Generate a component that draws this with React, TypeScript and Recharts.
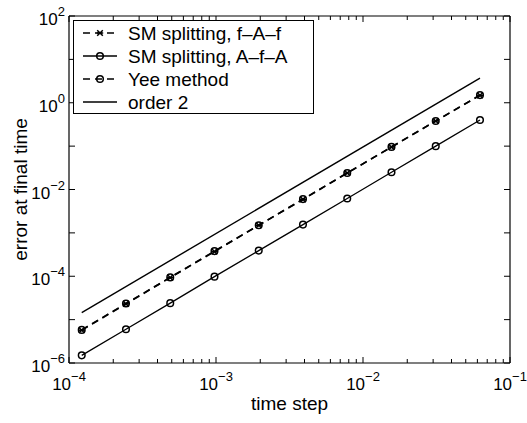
import React from "react";
import { LineChart, Line, XAxis, YAxis, Legend } from "recharts";

// time steps halve from one run to the next
const steps = [1.2207e-4, 2.4414e-4, 4.8828e-4, 9.7656e-4, 1.9531e-3, 3.9063e-3, 7.8125e-3, 1.5625e-2, 3.125e-2, 6.25e-2];
const fAfErr = [5.7e-6, 2.3e-5, 9.3e-5, 3.7e-4, 1.5e-3, 5.9e-3, 2.4e-2, 9.5e-2, 0.38, 1.48];
const AfAErr = [1.5e-6, 6.0e-6, 2.4e-5, 9.8e-5, 3.9e-4, 1.55e-3, 6.2e-3, 2.5e-2, 0.1, 0.4];
const yeeErr = [5.8e-6, 2.35e-5, 9.4e-5, 3.8e-4, 1.5e-3, 6.0e-3, 2.4e-2, 9.6e-2, 0.38, 1.5];
// reference slope line, only its two ends
const order2Steps = [1.2207e-4, 6.25e-2];
const order2Err = [1.45e-5, 3.7];

const xTicks = [
  1e-4, 2e-4, 3e-4, 4e-4, 5e-4, 6e-4, 7e-4, 8e-4, 9e-4,
  1e-3, 2e-3, 3e-3, 4e-3, 5e-3, 6e-3, 7e-3, 8e-3, 9e-3,
  1e-2, 2e-2, 3e-2, 4e-2, 5e-2, 6e-2, 7e-2, 8e-2, 9e-2,
  1e-1,
];
const yTicks = [1e-6, 1e-5, 1e-4, 1e-3, 1e-2, 1e-1, 1, 10, 100];
const yLabelled = [-6, -4, -2, 0, 2];

const legendItems = ["SM splitting, f\u2013A\u2013f", "SM splitting, A\u2013f\u2013A", "Yee method", "order 2"];

const data = steps.map((x, i) => ({
  x,
  fAf: fAfErr[i],
  AfA: AfAErr[i],
  yee: yeeErr[i],
  order2: order2Steps.indexOf(x) >= 0 ? order2Err[order2Steps.indexOf(x)] : null,
}));

const FONT = "'Liberation Sans', Arial, Helvetica, sans-serif";
const DASH = "7 5";

const expOf = (v: number) => Math.round(Math.log10(v));
const isMajor = (v: number) => Math.abs(Math.log10(v) - expOf(v)) < 1e-6;
const expText = (e: number) => (e < 0 ? "\u2212" + Math.abs(e) : String(e));

const BottomTick = (props: any) => {
  const { x, y, payload } = props;
  const major = isMajor(payload.value);
  return (
    <g>
      <line x1={x} x2={x} y1={y} y2={y - (major ? 6 : 4)} stroke="#000" />
      {major && (
        <text x={x} y={y + 27} textAnchor="middle" fontSize={17} fill="#000" fontFamily={FONT}>
          10<tspan dy={-9} fontSize={13}>{expText(expOf(payload.value))}</tspan>
        </text>
      )}
    </g>
  );
};

const TopTick = (props: any) => {
  const { x, y, payload } = props;
  const major = isMajor(payload.value);
  return <line x1={x} x2={x} y1={y} y2={y + (major ? 6 : 4)} stroke="#000" />;
};

const LeftTick = (props: any) => {
  const { x, y, payload } = props;
  const e = expOf(payload.value);
  return (
    <g>
      <line x1={x} x2={x + 6} y1={y} y2={y} stroke="#000" />
      {yLabelled.includes(e) && (
        <text x={x - 4} y={y + 9} textAnchor="end" fontSize={17} fill="#000" fontFamily={FONT}>
          10<tspan dy={-9} fontSize={13}>{expText(e)}</tspan>
        </text>
      )}
    </g>
  );
};

const RightTick = (props: any) => {
  const { x, y } = props;
  return <line x1={x} x2={x - 6} y1={y} y2={y} stroke="#000" />;
};

// f-A-f: small asterisk
const StarMark = ({ cx, cy }: { cx: number; cy: number }) => (
  <g stroke="#000" strokeWidth={1.5}>
    <line x1={cx - 2.8} x2={cx + 2.8} y1={cy - 2.8} y2={cy + 2.8} />
    <line x1={cx - 2.8} x2={cx + 2.8} y1={cy + 2.8} y2={cy - 2.8} />
    <line x1={cx - 3.2} x2={cx + 3.2} y1={cy} y2={cy} />
  </g>
);
// hollow circle, the series line shows through
const RingMark = ({ cx, cy }: { cx: number; cy: number }) => (
  <circle cx={cx} cy={cy} r={3.3} fill="none" stroke="#000" strokeWidth={1.5} />
);

const LegendBox = () => {
  const rowY = [13, 36, 59, 82];
  return (
    <div style={{ width: 241, height: 94, border: "1.2px solid #000", background: "#fff", boxSizing: "border-box", position: "relative" }}>
      <svg width={241} height={94} style={{ display: "block", position: "absolute", left: -1, top: -1 }}>
        {rowY.map((ry, i) => (
          <g key={i}>
            <line
              x1={10}
              x2={44}
              y1={ry}
              y2={ry}
              stroke="#000"
              strokeWidth={i === 1 || i === 3 ? 1.3 : 1.6}
              strokeDasharray={i === 0 || i === 2 ? DASH : undefined}
            />
            {i === 0 && <StarMark cx={27} cy={ry} />}
            {(i === 1 || i === 2) && <RingMark cx={27} cy={ry} />}
            <text x={55} y={ry + 7} fontSize={19} fontFamily={FONT} fill="#000">
              {legendItems[i]}
            </text>
          </g>
        ))}
      </svg>
    </div>
  );
};

export default function App() {
  return (
    <div style={{ position: "absolute", left: 0, top: 0, background: "#fff", fontFamily: FONT }}>
      <LineChart width={527} height={423} data={data} margin={{ top: 15, right: 16, bottom: 59, left: 68 }}>
        <XAxis
          xAxisId="bottom"
          dataKey="x"
          type="number"
          scale="log"
          domain={[1e-4, 1e-1]}
          ticks={xTicks}
          interval={0}
          height={1}
          tickSize={0}
          tickMargin={0}
          tickLine={false}
          axisLine={{ stroke: "#000", strokeWidth: 1.2 }}
          tick={<BottomTick />}
          allowDataOverflow
          label={{
            content: () => (
              <text x={289.5} y={410} textAnchor="middle" fontSize={19} fontFamily={FONT} fill="#000">
                time step
              </text>
            ),
          }}
        />
        <XAxis
          xAxisId="top"
          orientation="top"
          dataKey="x"
          type="number"
          scale="log"
          domain={[1e-4, 1e-1]}
          ticks={xTicks}
          interval={0}
          height={1}
          tickSize={0}
          tickMargin={0}
          tickLine={false}
          axisLine={{ stroke: "#000", strokeWidth: 1.2 }}
          tick={<TopTick />}
          allowDataOverflow
        />
        <YAxis
          yAxisId="left"
          type="number"
          scale="log"
          domain={[1e-6, 100]}
          ticks={yTicks}
          interval={0}
          width={1}
          tickSize={0}
          tickMargin={0}
          tickLine={false}
          axisLine={{ stroke: "#000", strokeWidth: 1.2 }}
          tick={<LeftTick />}
          allowDataOverflow
          label={{
            content: () => (
              <text
                x={27}
                y={189.5}
                transform="rotate(-90 27 189.5)"
                textAnchor="middle"
                fontSize={19}
                fontFamily={FONT}
                fill="#000"
              >
                error at final time
              </text>
            ),
          }}
        />
        <YAxis
          yAxisId="right"
          orientation="right"
          type="number"
          scale="log"
          domain={[1e-6, 100]}
          ticks={yTicks}
          interval={0}
          width={1}
          tickSize={0}
          tickMargin={0}
          tickLine={false}
          axisLine={{ stroke: "#000", strokeWidth: 1.2 }}
          tick={<RightTick />}
          allowDataOverflow
        />
        <Line
          xAxisId="bottom"
          yAxisId="left"
          dataKey="order2"
          stroke="#000"
          strokeWidth={1.4}
          dot={false}
          connectNulls
          isAnimationActive={false}
        />
        <Line
          xAxisId="bottom"
          yAxisId="left"
          dataKey="AfA"
          stroke="#000"
          strokeWidth={1.3}
          dot={(p: any) => <RingMark key={p.index} cx={p.cx} cy={p.cy} />}
          isAnimationActive={false}
        />
        <Line
          xAxisId="bottom"
          yAxisId="left"
          dataKey="yee"
          stroke="#000"
          strokeWidth={1.6}
          strokeDasharray={DASH}
          dot={(p: any) => <RingMark key={p.index} cx={p.cx} cy={p.cy} />}
          isAnimationActive={false}
        />
        <Line
          xAxisId="bottom"
          yAxisId="left"
          dataKey="fAf"
          stroke="#000"
          strokeWidth={1.6}
          strokeDasharray={DASH}
          dot={(p: any) => <StarMark key={p.index} cx={p.cx} cy={p.cy} />}
          isAnimationActive={false}
        />
        <Legend
          layout="vertical"
          align="center"
          verticalAlign="middle"
          content={() => <LegendBox />}
          wrapperStyle={{ left: 73, top: 20, width: 241, height: 94 }}
        />
      </LineChart>
    </div>
  );
}
